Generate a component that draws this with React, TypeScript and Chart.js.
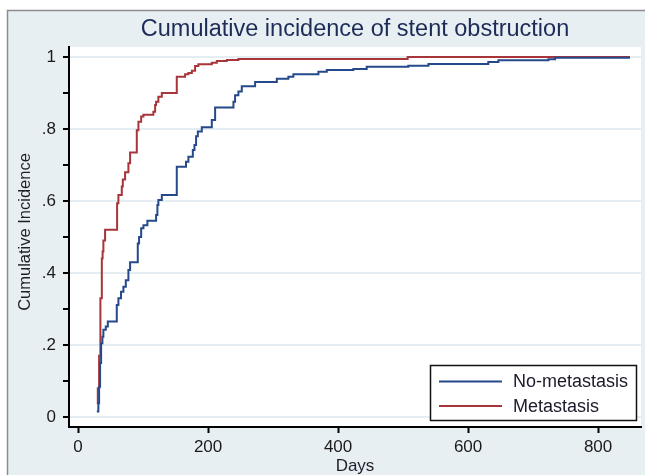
import React, { useEffect, useRef } from "react";
import { Chart, registerables } from "chart.js";

Chart.register(...registerables);

const chartTitle = "Cumulative incidence of stent obstruction";
const xAxisTitle = "Days";
const yAxisTitle = "Cumulative Incidence";
const seriesNames = ["No-metastasis", "Metastasis"];

// No-metastasis step curve (day of step, cumulative incidence after step)
const noMetDays = [
  28.8, 31.2, 32.3, 33.8, 35.4, 37.4, 38.9, 42.6, 45.7, 59.5, 62, 66, 69.7, 73.4, 77.4, 80,
  91.8, 93.8, 97, 100.5, 106.6, 120, 122, 123.5, 128.8, 151.8, 166, 169.7, 176.5, 179, 181.5,
  184.2, 190.3, 205.7, 210.8, 239, 241.5, 246.6, 251.8, 272.3, 305.7, 323.5, 331.2, 369.7,
  382.6, 423.5, 444, 508, 539, 631, 646.6, 723.5, 733.8, 849,
];
const noMetValues = [
  0.015, 0.038, 0.084, 0.15, 0.205, 0.223, 0.242, 0.251, 0.265, 0.311, 0.33, 0.348, 0.362, 0.38,
  0.408, 0.43, 0.482, 0.5, 0.524, 0.533, 0.545, 0.561, 0.589, 0.603, 0.617, 0.695, 0.709, 0.723,
  0.742, 0.756, 0.78, 0.793, 0.805, 0.825, 0.86, 0.876, 0.894, 0.904, 0.919, 0.931, 0.94, 0.945,
  0.952, 0.959, 0.964, 0.967, 0.973, 0.976, 0.981, 0.986, 0.991, 0.994, 0.998, 0.998,
];

// Metastasis step curve
const metDays = [
  28.8, 30.3, 32.3, 34.3, 36.5, 37.7, 38.9, 41.5, 60, 62, 67.2, 68.8, 72.3, 77.4, 80, 90.3, 92.8,
  97, 100.5, 115.8, 118.5, 120, 123.5, 128.8, 151.8, 164.6, 169.7, 175, 180, 185, 205.7, 213.4,
  228.8, 246.6, 507, 849,
];
const metValues = [
  0.038, 0.08, 0.17, 0.33, 0.44, 0.46, 0.49, 0.52, 0.594, 0.617, 0.64, 0.66, 0.68, 0.705, 0.735,
  0.797, 0.82, 0.835, 0.84, 0.848, 0.867, 0.876, 0.89, 0.9, 0.945, 0.952, 0.956, 0.962, 0.975,
  0.98, 0.984, 0.989, 0.992, 0.995, 1.0, 1.0,
];

const xTickValues = [0, 200, 400, 600, 800];
const yTickValues = [0, 0.1, 0.2, 0.3, 0.4, 0.5, 0.6, 0.7, 0.8, 0.9, 1];
const yTickLabels = ["0", "", ".2", "", ".4", "", ".6", "", ".8", "", "1"];

const seriesColors = ["#25498a", "#a8353a"];
const FONT = '"Liberation Sans", Arial, sans-serif';

const decorPlugin = {
  id: "decor",
  beforeDraw(chart: any) {
    const { ctx, chartArea } = chart;
    ctx.save();
    ctx.fillStyle = "#ffffff";
    ctx.fillRect(0, 0, chart.width, chart.height);
    ctx.fillStyle = "#e8eff3";
    ctx.fillRect(7, 10, chart.width - 7, chart.height - 10);
    ctx.strokeStyle = "#8c8c8c";
    ctx.lineWidth = 1.5;
    ctx.beginPath();
    ctx.moveTo(7.5, chart.height);
    ctx.lineTo(7.5, 10.5);
    ctx.lineTo(chart.width, 10.5);
    ctx.stroke();
    ctx.fillStyle = "#ffffff";
    ctx.fillRect(chartArea.left, chartArea.top, chartArea.right - chartArea.left, chartArea.bottom - chartArea.top);
    ctx.restore();
  },
  afterDraw(chart: any) {
    const { ctx } = chart;
    ctx.save();
    // y axis title
    ctx.translate(25, 232);
    ctx.rotate(-Math.PI / 2);
    ctx.fillStyle = "#1e1e2a";
    ctx.font = `16.5px ${FONT}`;
    ctx.textAlign = "center";
    ctx.textBaseline = "middle";
    ctx.fillText(yAxisTitle, 0, 0);
    ctx.restore();

    // legend
    ctx.save();
    ctx.fillStyle = "#ffffff";
    ctx.fillRect(430.5, 365.5, 206, 55);
    ctx.strokeStyle = "#111111";
    ctx.lineWidth = 1.5;
    ctx.strokeRect(430.5, 365.5, 206, 55);
    const rows = [381.5, 406];
    chart.data.datasets.forEach((ds: any, i: number) => {
      ctx.strokeStyle = ds.borderColor;
      ctx.lineWidth = 2;
      ctx.beginPath();
      ctx.moveTo(439, rows[i]);
      ctx.lineTo(502, rows[i]);
      ctx.stroke();
      ctx.fillStyle = "#1a1a2a";
      ctx.font = `18px ${FONT}`;
      ctx.textAlign = "left";
      ctx.textBaseline = "middle";
      ctx.fillText(ds.label, 513, rows[i] + 1);
    });
    ctx.restore();
  },
};

export default function App() {
  const canvasRef = useRef<HTMLCanvasElement | null>(null);

  useEffect(() => {
    const canvas = canvasRef.current;
    if (!canvas) return;
    const toPoints = (xs: number[], ys: number[]) => xs.map((x, i) => ({ x, y: ys[i] }));

    const chart = new Chart(canvas, {
      type: "line",
      data: {
        datasets: [
          {
            label: seriesNames[0],
            data: toPoints(noMetDays, noMetValues),
            borderColor: seriesColors[0],
            backgroundColor: seriesColors[0],
            borderWidth: 2,
            pointRadius: 0,
            stepped: "before",
            fill: false,
          },
          {
            label: seriesNames[1],
            data: toPoints(metDays, metValues),
            borderColor: seriesColors[1],
            backgroundColor: seriesColors[1],
            borderWidth: 2,
            pointRadius: 0,
            stepped: "before",
            fill: false,
          },
        ],
      },
      options: {
        responsive: false,
        animation: false,
        devicePixelRatio: 1,
        layout: { padding: { left: 0, right: 4, top: 0, bottom: 0 } },
        plugins: {
          legend: { display: false },
          tooltip: { enabled: false },
          title: {
            display: true,
            text: chartTitle,
            fullSize: false,
            color: "#1d2b57",
            font: { family: FONT, size: 23.5, weight: "normal", lineHeight: 1.2 },
            padding: { top: 15, bottom: 3.8 },
          },
        },
        scales: {
          x: {
            type: "linear",
            min: -14,
            max: 866,
            afterFit: (scale: any) => {
              scale.height = 48;
            },
            afterBuildTicks: (scale: any) => {
              scale.ticks = xTickValues.map((v) => ({ value: v }));
            },
            border: { display: true, color: "#000000", width: 2 },
            grid: {
              drawOnChartArea: false,
              drawTicks: true,
              tickLength: 6,
              tickWidth: 2,
              tickColor: "#000000",
            },
            ticks: {
              color: "#1a1a1a",
              font: { family: FONT, size: 17 },
              padding: 4,
              maxRotation: 0,
              autoSkip: false,
            },
            title: {
              display: true,
              text: xAxisTitle,
              color: "#1e1e2a",
              font: { family: FONT, size: 17, lineHeight: 1 },
              padding: { top: 0, bottom: 0 },
            },
          },
          y: {
            type: "linear",
            min: -0.028,
            max: 1.028,
            afterFit: (scale: any) => {
              scale.width = 69;
            },
            afterBuildTicks: (scale: any) => {
              scale.ticks = yTickValues.map((v) => ({ value: v }));
            },
            border: { display: true, color: "#000000", width: 2 },
            grid: {
              color: (ctx: any) => {
                const idx = yTickValues.indexOf(ctx.tick ? ctx.tick.value : -1);
                return idx >= 0 && yTickLabels[idx] !== "" ? "#e3edf2" : "rgba(0,0,0,0)";
              },
              lineWidth: 2,
              drawTicks: true,
              tickLength: 6,
              tickWidth: 2,
              tickColor: "#000000",
            },
            ticks: {
              color: "#1a1a1a",
              font: { family: FONT, size: 17 },
              padding: 7,
              autoSkip: false,
              callback: (value: any) => {
                const idx = yTickValues.findIndex((v) => Math.abs(v - Number(value)) < 1e-9);
                return idx >= 0 ? yTickLabels[idx] : "";
              },
            },
          },
        },
      },
      plugins: [decorPlugin],
    } as any);

    return () => chart.destroy();
  }, []);

  return (
    <div style={{ position: "fixed", left: 0, top: 0, width: 645, height: 475 }}>
      <canvas ref={canvasRef} width={645} height={475} style={{ display: "block" }} />
    </div>
  );
}
